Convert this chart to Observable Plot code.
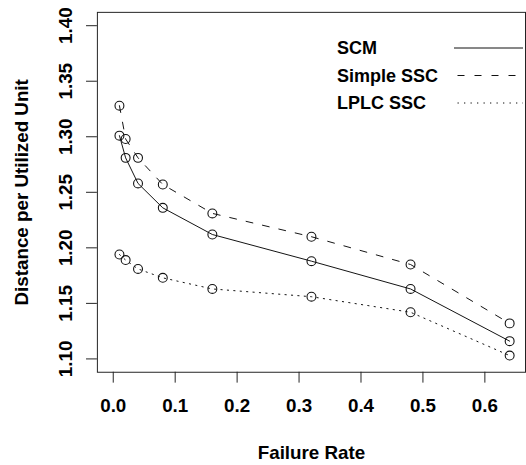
<!DOCTYPE html>
<html><head><meta charset="utf-8">
<script src="https://cdn.jsdelivr.net/npm/d3@7"></script>
<script src="https://cdn.jsdelivr.net/npm/@observablehq/plot@0.6"></script>
<style>
html,body{margin:0;padding:0;background:#fff;overflow:hidden;width:526px;height:465px}
#wrap{position:relative;width:526px;height:465px;overflow:hidden}
#wrap svg{display:block}
#legend{position:absolute;left:0;top:0;pointer-events:none}
</style></head><body><div id="wrap"></div>
<script>
// ---- data ----
const failureRate = [0.01, 0.02, 0.04, 0.08, 0.16, 0.32, 0.48, 0.64];
const scm        = [1.301, 1.281, 1.258, 1.236, 1.212, 1.188, 1.163, 1.116];
const simpleSSC  = [1.328, 1.298, 1.281, 1.257, 1.231, 1.210, 1.185, 1.132];
const lplcSSC    = [1.194, 1.189, 1.181, 1.173, 1.163, 1.156, 1.142, 1.103];
const seriesNames = ["SCM", "Simple SSC", "LPLC SSC"];
const xTicks = [0, 0.1, 0.2, 0.3, 0.4, 0.5, 0.6];
const yTicks = [1.10, 1.15, 1.20, 1.25, 1.30, 1.35, 1.40];
const xLabel = "Failure Rate";
const yLabel = "Distance per Utilized Unit";

// ---- styles ----
const FONT = "'Liberation Sans', Arial, Helvetica, sans-serif";
const dashes = {"SCM": "none", "Simple SSC": "7,10", "LPLC SSC": "1.3,5.2"};
const seriesValues = [scm, simpleSSC, lplcSSC];

const rows = seriesNames.flatMap((s, i) =>
  failureRate.map((x, j) => ({series: s, x, y: seriesValues[i][j]})));

const xDom = [0 - 0.04 * 0.64, 0.64 + 0.04 * 0.64];
const yDom = [1.1 - 0.012, 1.4 + 0.012];

const chart = Plot.plot({
  width: 532, height: 465,
  marginLeft: 98, marginRight: 1, marginTop: 12, marginBottom: 89,
  style: {fontFamily: FONT, fontWeight: "bold", fontSize: "19px", color: "#000", background: "#fff", overflow: "visible"},
  x: {domain: xDom},
  y: {domain: yDom},
  marks: [
    Plot.frame({stroke: "#222", strokeWidth: 1}),
    Plot.axisX({ticks: xTicks, tickSize: 11, tickPadding: 16, tickFormat: d3.format(".1f"),
      label: xLabel, labelAnchor: "center", labelArrow: "none", labelOffset: 88, stroke: "#222"}),
    Plot.axisY({ticks: yTicks, tickSize: 11, tickPadding: 15, tickRotate: -90, tickFormat: d3.format(".2f"),
      label: yLabel, labelAnchor: "center", labelArrow: "none", labelOffset: 84, stroke: "#222"}),
    ...seriesNames.map(s => Plot.line(rows.filter(r => r.series === s),
      {x: "x", y: "y", stroke: "#111", strokeWidth: 1, strokeDasharray: dashes[s]})),
    Plot.dot(rows, {x: "x", y: "y", r: 4.5, stroke: "#111", strokeWidth: 1.1, fill: "none"})
  ]
});
const wrap = document.getElementById("wrap");
wrap.appendChild(chart);

// ---- legend (R-style, no box) ----
const lg = d3.select(wrap).append("svg").attr("id", "legend")
  .attr("width", 526).attr("height", 130)
  .style("font-family", FONT).style("font-weight", "bold").style("font-size", "18px");
const rowG = lg.selectAll("g").data(seriesNames).join("g")
  .attr("transform", (d, i) => `translate(0,${48 + i * 27.5})`);
rowG.append("text").attr("x", 337).attr("dy", "0.35em").attr("fill", "#000").text(d => d);
rowG.append("line").attr("x1", 454).attr("x2", 523).attr("stroke", "#111").attr("stroke-width", 1)
  .attr("stroke-dasharray", d => dashes[d]).attr("stroke-dashoffset", -3.5);
</script></body></html>
